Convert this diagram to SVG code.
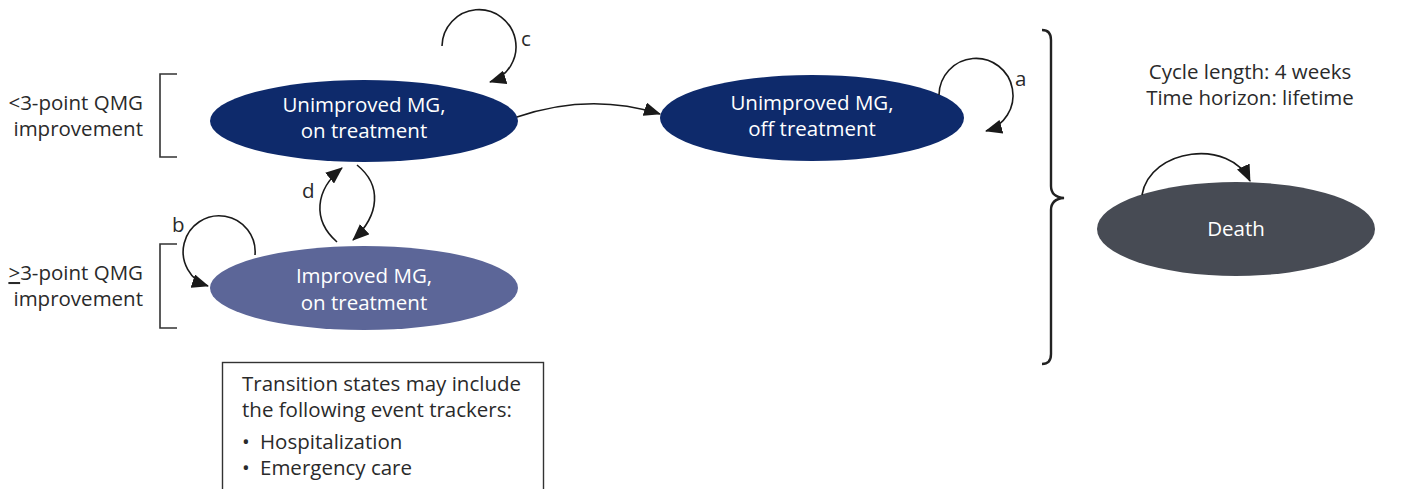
<svg xmlns="http://www.w3.org/2000/svg" width="1411" height="489" viewBox="0 0 1411 489">
<defs>
<marker id="ah" markerUnits="userSpaceOnUse" markerWidth="18" markerHeight="14" refX="16" refY="7" orient="auto">
<path d="M0,0 L17,7 L0,14 Z" fill="#1a1a1a"/>
</marker>
<style>
text{font-family:"Open Sans","Noto Sans","Liberation Sans",sans-serif;font-size:20.5px;fill:#2a2a2a}
.w{fill:#ffffff;text-anchor:middle}
.c{fill:none;stroke:#1a1a1a;stroke-width:1.6}
.br{fill:none;stroke:#333;stroke-width:1.6}
</style>
</defs>
<rect width="1411" height="489" fill="#fff"/>
<g id="node-unimproved-on">
<ellipse cx="364" cy="121" rx="154" ry="41" fill="#0e2a6b"/>
<text class="w" x="364" y="112">Unimproved MG,</text>
<text class="w" x="364" y="138">on treatment</text>
</g>
<g id="node-improved-on">
<ellipse cx="364" cy="288" rx="154" ry="42" fill="#5c6698"/>
<text class="w" x="364" y="283">Improved MG,</text>
<text class="w" x="364" y="310">on treatment</text>
</g>
<g id="node-unimproved-off">
<ellipse cx="812" cy="118" rx="152" ry="43" fill="#0e2a6b"/>
<text class="w" x="812" y="110">Unimproved MG,</text>
<text class="w" x="812" y="136">off treatment</text>
</g>
<g id="node-death">
<ellipse cx="1236" cy="229" rx="139" ry="47" fill="#474b54"/>
<text class="w" x="1236" y="236">Death</text>
</g>
<g id="labels">
<text x="143" y="110" text-anchor="end">&lt;3-point QMG</text>
<text x="143" y="136" text-anchor="end">improvement</text>
<text x="143" y="280" text-anchor="end"><tspan text-decoration="underline">&gt;</tspan>3-point QMG</text>
<text x="143" y="306" text-anchor="end">improvement</text>
<path class="br" d="M177,74 H160 V157 H177"/>
<path class="br" d="M177,244 H160 V328 H177"/>
<path d="M1042,30 Q1051,30 1051,40 V186 Q1051,197 1064,198 Q1051,199 1051,210 V354 Q1051,364 1042,364" fill="none" stroke="#222" stroke-width="2.4"/>
<text x="1250" y="79" text-anchor="middle">Cycle length: 4 weeks</text>
<text x="1250" y="105" text-anchor="middle">Time horizon: lifetime</text>
</g>
<g id="legend">
<rect x="222.5" y="362.5" width="321" height="140" fill="none" stroke="#333" stroke-width="1.4"/>
<text x="242" y="391">Transition states may include</text>
<text x="242" y="417">the following event trackers:</text>
<text x="242" y="449">•</text><text x="260" y="449">Hospitalization</text>
<text x="242" y="475">•</text><text x="260" y="475">Emergency care</text>
</g>
<g id="connectors">
<path class="c" d="M442,46 A37,37 0 1,1 490,82" marker-end="url(#ah)"/>
<text x="521" y="46">c</text>
<path class="c" d="M939,95 A37,37 0 1,1 986,131" marker-end="url(#ah)"/>
<text x="1015" y="86">a</text>
<path class="c" d="M255,255 A36,36 0 1,0 208,286" marker-end="url(#ah)"/>
<text x="172" y="232">b</text>
<path class="c" d="M337,242 C312,220 315,190 342,168" marker-end="url(#ah)"/>
<path class="c" d="M357,165 C382,185 380,215 353,240" marker-end="url(#ah)"/>
<text x="302" y="198">d</text>
<path class="c" d="M517,117 Q590,92 660,114" marker-end="url(#ah)"/>
<path class="c" d="M1142,195 C1150,148 1230,138 1250,181" marker-end="url(#ah)"/>
</g>
</svg>
